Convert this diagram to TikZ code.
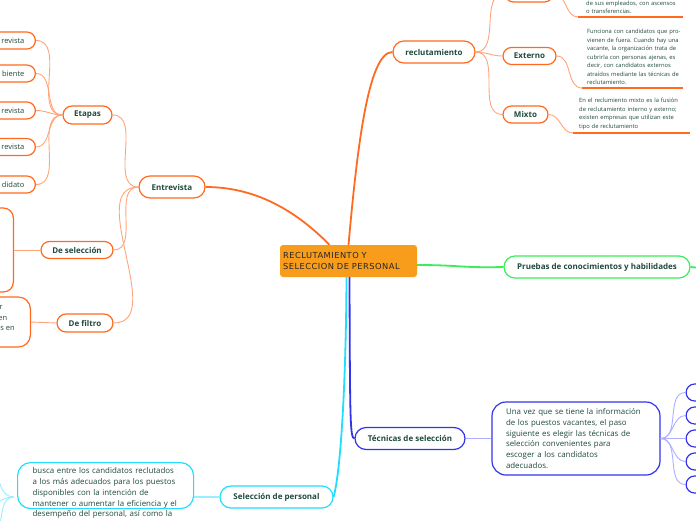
\documentclass[tikz,border=0pt]{standalone}
\usepackage{fontspec}
\setmainfont{Open Sans}
\newfontfamily\centerfont[LetterSpace=6]{DejaVu Sans}
\definecolor{colOM}{HTML}{FF6A1F}
\definecolor{colOL}{HTML}{FFA57C}
\definecolor{colGM}{HTML}{3AEE5A}
\definecolor{colBM}{HTML}{3333EE}
\definecolor{colBL}{HTML}{AFAFFF}
\definecolor{colCM}{HTML}{22DDFF}
\definecolor{colCL}{HTML}{99EEFF}
\definecolor{colFill}{HTML}{F89C1C}
\definecolor{colTx}{HTML}{1F4A3D}
\tikzset{
 lab/.style={draw, fill=white, line width=1.2pt, rounded corners=8.5pt, minimum height=17pt, inner sep=0pt, font=\fontsize{8}{9}\selectfont\bfseries, text=colTx},
 lab1/.style={lab, rounded corners=11pt, minimum height=22pt},
 leaf/.style={lab, font=\fontsize{7.5}{9}\selectfont, anchor=east, inner xsep=11pt},
 bodytxt/.style={font=\fontsize{7.9}{10.8}\selectfont, text=colTx, align=left},
 smalltxt/.style={font=\fontsize{5.8}{8.5}\selectfont, text=colTx, align=left, inner xsep=5pt, inner ysep=3pt, text width=112pt},
 mainln/.style={line width=1.8pt},
 subln/.style={line width=0.9pt},
 uline/.style={colOM, line width=1.5pt},
}
\begin{document}
\frenchspacing
\begin{tikzpicture}[x=1pt,y=-1pt]
\useasboundingbox (0,0) rectangle (696,520);
\fill[white] (0,0) rectangle (696,520);
\clip (0,0) rectangle (696,520);

% ---------- centre ----------
\node[fill=colFill, rounded corners=3pt, minimum width=137pt, minimum height=32pt, text width=131pt, align=left, inner xsep=3pt, font=\centerfont\fontsize{8.3}{11}\selectfont, text=black!85] (center) at (348.5,261) {RECLUTAMIENTO Y\\SELECCION DE PERSONAL};

% ---------- level 1 ----------
\node[lab1, draw=colOM, minimum width=66pt] (entrev) at (172,187) {Entrevista};
\node[lab1, draw=colOM, minimum width=82pt] (reclu) at (434,52) {reclutamiento};
\node[lab1, draw=colGM, minimum width=186pt] (pruebas) at (597,267) {Pruebas de conocimientos y habilidades};
\node[lab1, draw=colBM, minimum width=110pt] (tecnicas) at (410,438.5) {Técnicas de selección};
\node[lab1, draw=colCM, minimum width=113pt] (selper) at (276.5,497) {Selección de personal};
\coordinate (prend) at (700,268);

\draw[colOM, mainln] (center.north) .. controls (357,150) and (368,52) .. (reclu.west);
\draw[colOM, mainln] ([xshift=-19pt]center.north) .. controls (300,215) and (260,187) .. (entrev.east);
\draw[colGM, mainln] ([yshift=-4pt]center.east) .. controls (460,265) and (460,268) .. (pruebas.west);
\draw[colGM, mainln] (pruebas.east) -- (prend);
\draw[colCM, mainln] ([xshift=-2pt]center.south) .. controls (346,380) and (341,470) .. (selper.east);
\draw[colBM, mainln] ([xshift=1pt]center.south) .. controls (350,420) and (350,438) .. (tecnicas.west);

% ---------- Entrevista branch ----------
\node[lab, draw=colOM, minimum width=49pt, minimum height=18pt, rounded corners=9pt] (etapas) at (87.5,115) {Etapas};
\node[lab, draw=colOM, minimum width=72pt] (desel) at (77,250) {De selección};
\node[lab, draw=colOM, minimum width=56pt, minimum height=18pt, rounded corners=9pt] (defil) at (85,323) {De filtro};
\foreach \n in {etapas,desel,defil}
  \draw[colOL, subln] (entrev.west) to[out=180,in=0] (\n.east);

\node[leaf, draw=colOM] (e1) at (36,40.5) {revista};
\node[leaf, draw=colOM] (e2) at (36,73.5) {biente};
\node[leaf, draw=colOM] (e3) at (36,110.5) {revista};
\node[leaf, draw=colOM] (e4) at (36,147) {revista};
\node[leaf, draw=colOM] (e5) at (36,184.5) {didato};
\foreach \n in {e1,e2,e3,e4,e5}
  \draw[colOL, subln] (etapas.west) to[out=180,in=0] (\n.east);

\node[draw=colOM, fill=white, line width=1.2pt, rounded corners=10pt, minimum width=120pt, minimum height=84pt, anchor=east] (selbox) at (14,250) {};
\draw[colOL, subln] (selbox.east) -- (desel.west);
\node[draw=colOM, fill=white, line width=1.2pt, rounded corners=12pt, minimum width=120pt, minimum height=50pt, anchor=east] (filbox) at (31,322) {};
\draw[colOL, subln] (filbox.east) -- (defil.west);
\node[bodytxt, font=\fontsize{7.5}{10}\selectfont, anchor=base east, inner sep=0pt] (f1) at (3,309.5) {r};
\node[bodytxt, font=\fontsize{7.5}{10}\selectfont, anchor=base east, inner sep=0pt] (f2) at (7.5,320.5) {en};
\node[bodytxt, font=\fontsize{7.5}{10}\selectfont, anchor=base east, inner sep=0pt] (f3) at (15,330.5) {s en};

% ---------- reclutamiento branch ----------
\node[lab, draw=colOM, minimum width=48pt] (interno) at (529,-6.5) {};
\node[lab, draw=colOM, minimum width=53pt] (externo) at (529.5,56) {Externo};
\node[lab, draw=colOM, minimum width=45pt] (mixto) at (525.5,114.5) {Mixto};
\foreach \n in {interno,externo,mixto}
  \draw[colOL, subln] (reclu.east) to[out=0,in=180] (\n.west);

\node[smalltxt, anchor=south west, inner xsep=8pt] (intT) at (578,17) {de sus empleados, con ascensos\\o transferencias.};
\draw[uline] (intT.south west) -- ++(105,0);
\node[smalltxt, anchor=south west] (extT) at (582,88) {Funciona con candidatos que pro-\\vienen de fuera. Cuando hay una\\vacante, la organización trata de\\cubrirla con personas ajenas, es\\decir, con candidatos externos\\atraídos mediante las técnicas de\\reclutamiento.};
\draw[uline] (extT.south west) -- ++(101,0);
\node[smalltxt, anchor=south west, inner xsep=6pt] (mixT) at (573,133) {En el reclumiento mixto es la fusión\\de reclutamiento interno y externo;\\existen empresas que utilizan este\\tipo de reclutamiento};
\draw[uline] (mixT.south west) -- ++(117,0);
\draw[colOL, subln] (interno.east) to[out=0,in=180] (intT.south west);
\draw[colOL, subln] (externo.east) to[out=0,in=180] (extT.south west);
\draw[colOL, subln] (mixto.east) to[out=0,in=180] (mixT.south west);

% ---------- Tecnicas branch ----------
\node[bodytxt, draw=colBM, line width=1.2pt, fill=white, rounded corners=14pt, minimum width=168pt, minimum height=73pt, text width=140pt] (tecbox) at (576,438.5) {Una vez que se tiene la información\\de los puestos vacantes, el paso\\siguiente es elegir las técnicas de\\selección convenientes para\\escoger a los candidatos\\adecuados.};
\draw[colBL, line width=1.5pt] (tecnicas.east) -- (tecbox.west);
\node[lab, draw=colBM, minimum width=40pt, anchor=west] (t1) at (685.5,392.5) {};
\node[lab, draw=colBM, minimum width=40pt, anchor=west] (t2) at (685.5,415.5) {};
\node[lab, draw=colBM, minimum width=40pt, anchor=west] (t3) at (685.5,438.5) {};
\node[lab, draw=colBM, minimum width=40pt, anchor=west] (t4) at (685.5,461.5) {};
\node[lab, draw=colBM, minimum width=40pt, anchor=west] (t5) at (685.5,484.5) {};
\foreach \n in {t1,t2,t3,t4,t5}
  \draw[colBL, subln] (tecbox.east) to[out=0,in=180] (\n.west);

% ---------- Seleccion branch ----------
\node[bodytxt, draw=colCM, line width=1.2pt, fill=white, rounded corners=13pt, anchor=north west, text width=146pt, inner xsep=15pt, inner ysep=5pt, text depth=30pt] (selbox2) at (17,462) {busca entre los candidatos reclutados\\a los más adecuados para los puestos\\disponibles con la intención de\\mantener o aumentar la eficiencia y el\\desempeño del personal, así como la};
\draw[colCL, line width=1.5pt] (selper.west -| selbox2.east) -- (selper.west);
\coordinate (cj) at (14,497);
\coordinate (c1) at (-20,448);
\coordinate (c2) at (-20,508);
\coordinate (c3) at (-12,540);
\foreach \n in {c1,c2,c3}
  \draw[colCL, subln] (cj) to[out=180,in=0] (\n);
\end{tikzpicture}
\end{document}
